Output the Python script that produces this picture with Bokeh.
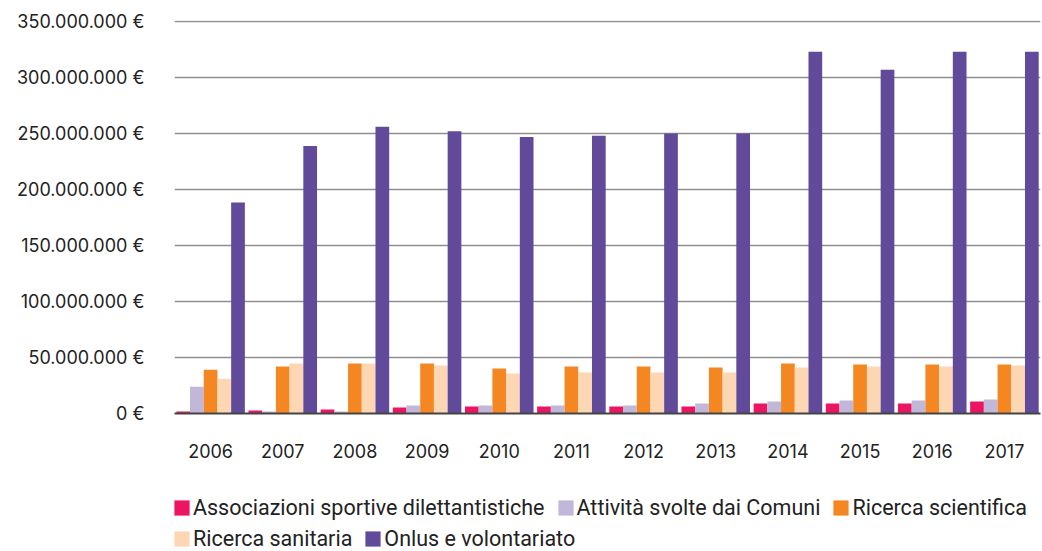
from bokeh.plotting import figure
from bokeh.models import (ColumnDataSource, FactorRange, Range1d, Legend, LegendItem,
                          CustomJSTickFormatter, FixedTicker)
from bokeh.layouts import column
from bokeh.transform import dodge
from bokeh.embed import file_html
from bokeh.resources import INLINE

years = ["2006", "2007", "2008", "2009", "2010", "2011", "2012", "2013", "2014", "2015", "2016", "2017"]
series_names = ["Associazioni sportive dilettantistiche", "Attività svolte dai Comuni",
                "Ricerca scientifica", "Ricerca sanitaria", "Onlus e volontariato"]
sportive = [1.8e6, 2.7e6, 3.6e6, 5.4e6, 6.3e6, 6.3e6, 6.3e6, 6.3e6, 8.9e6, 8.9e6, 8.9e6, 10.7e6]
comuni = [24.0e6, 1.8e6, 1.8e6, 7.1e6, 7.1e6, 7.1e6, 7.1e6, 8.9e6, 10.7e6, 11.6e6, 11.6e6, 12.5e6]
scientifica = [39.0e6, 42.0e6, 44.6e6, 44.6e6, 40.2e6, 42.0e6, 42.0e6, 41.0e6, 44.6e6, 43.8e6, 43.8e6, 43.8e6]
sanitaria = [31.0e6, 44.6e6, 44.6e6, 42.9e6, 35.7e6, 36.6e6, 36.6e6, 36.6e6, 41.0e6, 42.0e6, 42.0e6, 42.9e6]
onlus = [188.4e6, 239.0e6, 256.0e6, 252.0e6, 247.0e6, 248.0e6, 250.0e6, 250.0e6, 323.0e6, 307.0e6, 323.0e6, 323.0e6]
y_ticks = [0, 50e6, 100e6, 150e6, 200e6, 250e6, 300e6, 350e6]

colors = ["#EC1561", "#C0B7D9", "#F58723", "#FDD6B3", "#614A9A"]
keys = ["sportive", "comuni", "scientifica", "sanitaria", "onlus"]

source = ColumnDataSource(dict(years=years, sportive=sportive, comuni=comuni,
                               scientifica=scientifica, sanitaria=sanitaria, onlus=onlus))

FONT = "Inter"
LEGEND_FONT = "Roboto"
TEXT_COLOR = "#222222"

p = figure(x_range=FactorRange(*years, range_padding=0), y_range=Range1d(0, 351e6),
           width=1042, height=470, output_backend="svg", toolbar_location=None,
           min_border_left=174, min_border_right=2, min_border_top=20, min_border_bottom=57)
p.outline_line_color = None

bw = 0.19
offsets = [-2 * bw, -bw, 0, bw, 2 * bw]
for k, c, off in zip(keys, colors, offsets):
    p.vbar(x=dodge("years", off, range=p.x_range), top=k, width=bw, source=source,
           fill_color=c, line_color=None)

p.xgrid.grid_line_color = None
p.ygrid.grid_line_color = "#8f8f8f"
p.ygrid.grid_line_width = 1.5
p.yaxis.ticker = FixedTicker(ticks=y_ticks)
p.yaxis.formatter = CustomJSTickFormatter(code="""
    return Math.round(tick).toString().replace(/\\B(?=(\\d{3})+(?!\\d))/g, '.') + ' €';
""")
p.yaxis.axis_line_color = None
p.yaxis.major_tick_line_color = None
p.yaxis.minor_tick_line_color = None
p.yaxis.major_label_standoff = 24
p.yaxis.major_label_text_font = FONT
p.yaxis.major_label_text_font_size = "18px"
p.yaxis.major_label_text_color = TEXT_COLOR

p.xaxis.axis_line_color = "#444444"
p.xaxis.axis_line_width = 2
p.xaxis.major_tick_line_color = None
p.xaxis.minor_tick_line_color = None
p.xaxis.major_label_standoff = 24
p.xaxis.major_label_text_font = FONT
p.xaxis.major_label_text_font_size = "18px"
p.xaxis.major_label_text_color = TEXT_COLOR

# legend panel: zero-width copies of the series outside the visible range, only the legend shows
lf = figure(width=1042, height=81, x_range=FactorRange(*years, range_padding=0),
            y_range=Range1d(-2, -1), x_axis_location=None, y_axis_location=None,
            output_backend="svg", toolbar_location=None,
            min_border_left=174, min_border_right=2, min_border_top=0, min_border_bottom=0)
lf.outline_line_color = None
lf.grid.grid_line_color = None
keys_r = [lf.vbar(x="years", top=k, width=0, source=source, fill_color=c, line_color=None)
          for k, c in zip(keys, colors)]

def make_legend(idx, loc):
    items = [LegendItem(label=series_names[i], renderers=[keys_r[i]]) for i in idx]
    return Legend(items=items, location=loc, orientation="horizontal",
                  glyph_width=19, glyph_height=19, label_standoff=2, spacing=11,
                  padding=0, margin=0, border_line_color=None, background_fill_alpha=0,
                  label_text_font=LEGEND_FONT, label_text_font_size="21.5px",
                  label_text_color=TEXT_COLOR, label_height=15)

lf.add_layout(make_legend([0, 1, 2], (-2, 31)), "center")
lf.add_layout(make_legend([3, 4], (-2, 0)), "center")

layout = column(p, lf, spacing=0)
open("out.html", "w").write(file_html(layout, INLINE))
